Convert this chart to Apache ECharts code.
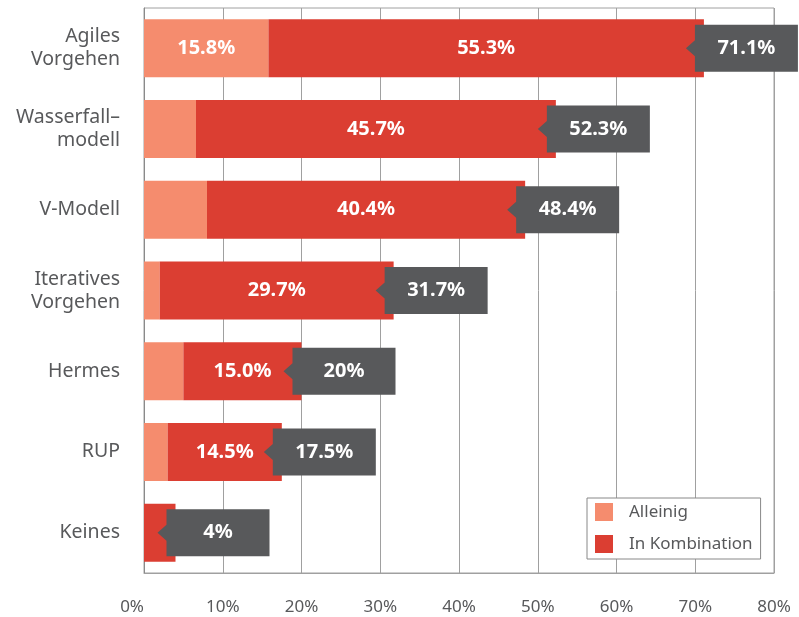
<!DOCTYPE html>
<html>
<head>
<meta charset="utf-8">
<script src="https://cdn.jsdelivr.net/npm/echarts@6/dist/echarts.min.js"></script>
<style>
  html, body { margin: 0; padding: 0; background: #fff; }
  #chart { width: 799px; height: 617px; }
</style>
</head>
<body>
<div id="chart"></div>
<script>
// data, top to bottom
const categories = ["Agiles\nVorgehen", "Wasserfall–\nmodell", "V-Modell", "Iteratives\nVorgehen", "Hermes", "RUP", "Keines"];
const alleinig = [15.8, 6.6, 8.0, 2.0, 5.0, 3.0, 0];
const kombination = [55.3, 45.7, 40.4, 29.7, 15.0, 14.5, 4.0];
const gesamt = [71.1, 52.3, 48.4, 31.7, 20, 17.5, 4];
const xTicks = [0, 10, 20, 30, 40, 50, 60, 70, 80];

const FONT = "Noto Sans";
const grey = "#58595b";

const chart = echarts.init(document.getElementById("chart"));

const option = {
  animation: false,
  textStyle: { fontFamily: FONT },
  grid: {
    left: 144,
    right: 25,
    top: 8,
    bottom: 44,
    show: true,
    borderColor: "#a0a0a0",
    borderWidth: 1
  },
  legend: {
    orient: "vertical",
    left: 587,
    top: 498,
    padding: [5, 8, 6, 8],
    itemWidth: 18,
    itemHeight: 18,
    itemGap: 14,
    icon: "rect",
    backgroundColor: "#fff",
    borderColor: "#888",
    borderWidth: 1,
    textStyle: { color: grey, fontSize: 17, padding: [4, 0, 0, 11] },
    data: ["Alleinig", "In Kombination"]
  },
  xAxis: {
    type: "value",
    min: 0,
    max: 80,
    interval: 10,
    axisLine: { show: true, lineStyle: { color: "#a0a0a0" } },
    axisTick: { show: false },
    splitLine: { lineStyle: { color: "#a0a0a0", width: 1 } },
    axisLabel: {
      color: grey,
      fontSize: 17,
      margin: 26,
      alignMinLabel: "right",
      formatter: v => (xTicks.indexOf(v) >= 0 ? v + "%" : "")
    }
  },
  yAxis: {
    type: "category",
    inverse: true,
    data: categories,
    axisLine: { show: true, lineStyle: { color: "#8a8a8a" } },
    axisTick: { show: false },
    axisLabel: { color: grey, fontSize: 19.5, lineHeight: 23, margin: 24, align: "right" }
  },
  series: [
    {
      name: "Alleinig",
      type: "bar",
      stack: "a",
      barWidth: 58,
      itemStyle: { color: "#f58c6e" },
      label: {
        show: false,
        color: "#fff",
        fontWeight: "bold",
        fontSize: 20,
        formatter: p => p.value.toFixed(1) + "%"
      },
      data: alleinig.map((v, i) => (i === 0 ? { value: v, label: { show: true } } : v))
    },
    {
      name: "In Kombination",
      type: "bar",
      stack: "a",
      barWidth: 58,
      itemStyle: { color: "#db3e32" },
      label: {
        show: true,
        color: "#fff",
        fontWeight: "bold",
        fontSize: 20,
        formatter: p => p.value.toFixed(1) + "%"
      },
      // no label inside the short "Keines" bar
      data: kombination.map((v, i) => (i === 6 ? { value: v, label: { show: false } } : v))
    },
    {
      name: "Gesamt",
      type: "custom",
      z: 10,
      data: gesamt.map((v, i) => [v, i]),
      renderItem: (params, api) => {
        const end = api.coord([api.value(0), api.value(1)]);
        const x = end[0], cy = end[1];
        const bx = x - 9, bw = 103, hh = 23.5;
        return {
          type: "group",
          children: [
            {
              type: "polygon",
              shape: {
                points: [
                  [x - 18, cy],
                  [bx, cy - 8],
                  [bx, cy - hh],
                  [bx + bw, cy - hh],
                  [bx + bw, cy + hh],
                  [bx, cy + hh],
                  [bx, cy + 8]
                ]
              },
              style: { fill: grey }
            },
            {
              type: "text",
              style: {
                text: api.value(0) + "%",
                x: bx + bw / 2,
                y: cy,
                align: "center",
                verticalAlign: "middle",
                fill: "#fff",
                font: "bold 20px " + FONT
              }
            }
          ]
        };
      }
    }
  ]
};

chart.setOption(option);
</script>
</body>
</html>
